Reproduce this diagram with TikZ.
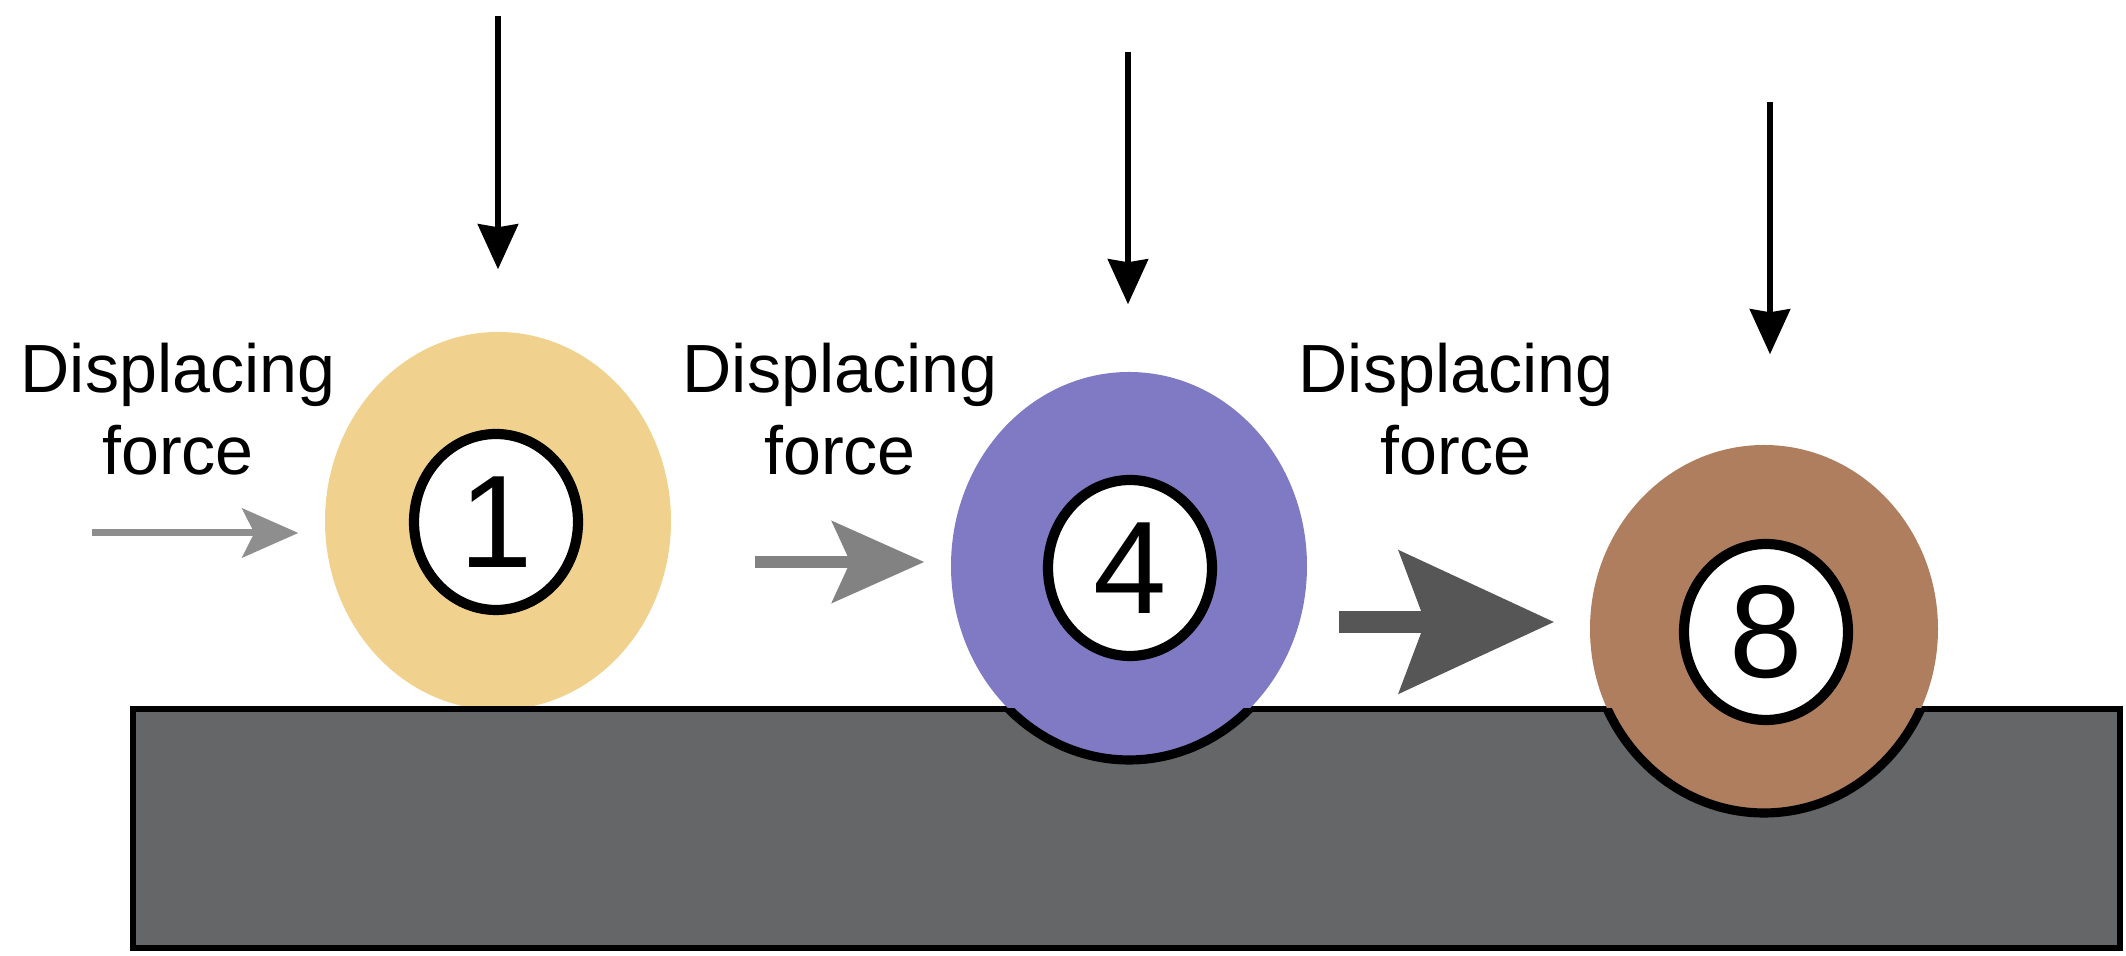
\documentclass[tikz,border=0pt]{standalone}
\usepackage{fontspec}
\setmainfont{Liberation Sans}
\usetikzlibrary{shapes.geometric,arrows.meta}
\definecolor{ballone}{HTML}{F0D18E}
\definecolor{ballfour}{HTML}{8079C3}
\definecolor{balleight}{HTML}{AF7E5F}
\definecolor{slabgray}{HTML}{656668}
\definecolor{pushlight}{HTML}{8E8E8E}
\definecolor{pushmid}{HTML}{828282}
\definecolor{pushdark}{HTML}{565656}

\begin{document}
\begin{tikzpicture}[
    ball/.style = {ellipse, inner sep=0pt},
    ring/.style = {ellipse, draw, fill=white, line width=2.9pt, inner sep=0pt,
                   minimum width=1.64cm, minimum height=1.76cm,
                   node font=\fontsize{37.5}{42}\selectfont},
    forcetext/.style = {align=center, inner sep=0pt, node font=\fontsize{19.4}{23.5}\selectfont},
    load/.style = {line width=1.7pt, -{Stealth[length=0.45cm,width=0.40cm,inset=0.03cm]}}
]
    \useasboundingbox (0,0) rectangle (21.26,9.56);

    % the first ball stands on the table, the table hides its foot
    \node [ball, fill=ballone, minimum width=3.46cm, minimum height=3.78cm] (ball1) at (4.98,4.35) {};
    \draw [line width=1.7pt, fill=slabgray] (1.33,0.08) rectangle (21.20,2.47);
    \node [ball, fill=ballfour, minimum width=3.56cm, minimum height=3.88cm] (ball4) at (11.29,3.90) {};
    \node [ball, fill=balleight, minimum width=3.48cm, minimum height=3.68cm] (ball8) at (17.64,3.27) {};

    % rim of the sunken part
    \begin{scope}
        \clip (1.33,0.08) rectangle (21.20,2.47);
        \foreach \b/\rx/\ry in {ball4/1.78/1.94,ball8/1.74/1.84}
            \draw [line width=2.6pt] (\b.center) ellipse [x radius=\rx, y radius=\ry];
    \end{scope}

    \node [ring] (num1) at (4.96,4.34) {1};
    \node [ring] (num4) at (11.30,3.88) {4};
    \node [ring] (num8) at (17.66,3.24) {8};

    % loads from above
    \coordinate (top1) at (4.98,9.40);
    \coordinate (top4) at (11.28,9.04);
    \coordinate (top8) at (17.70,8.54);
    \draw [load, shorten >=0.62cm] (top1) -- (top1 |- ball1.north);
    \draw [load, shorten >=0.67cm] (top4) -- (top4 |- ball4.north);
    \draw [load, shorten >=0.90cm] (top8) -- (top8 |- ball8.north);

    % displacing forces
    \coordinate (tail1) at (0.92,4.23);
    \coordinate (tail4) at (7.55,3.94);
    \coordinate (tail8) at (13.39,3.34);
    \draw [pushlight, line width=2pt, -{Stealth[length=0.56cm,width=0.49cm,inset=0.12cm]}, shorten >=0.26cm]
        (tail1) -- (tail1 -| ball1.west);
    \draw [pushmid, line width=3.4pt, -{Stealth[length=0.92cm,width=0.81cm,inset=0.18cm]}, shorten >=0.26cm]
        (tail4) -- (tail4 -| ball4.west);
    \draw [pushdark, line width=6.5pt, -{Stealth[length=1.54cm,width=1.40cm,inset=0.25cm]}, shorten >=0.35cm]
        (tail8) -- (tail8 -| ball8.west);

    \node [forcetext] (force1) at (1.78,5.47) {Displacing\\force};
    \node [forcetext] (force4) at (8.40,5.47) {Displacing\\force};
    \node [forcetext] (force8) at (14.56,5.47) {Displacing\\force};
\end{tikzpicture}
\end{document}
